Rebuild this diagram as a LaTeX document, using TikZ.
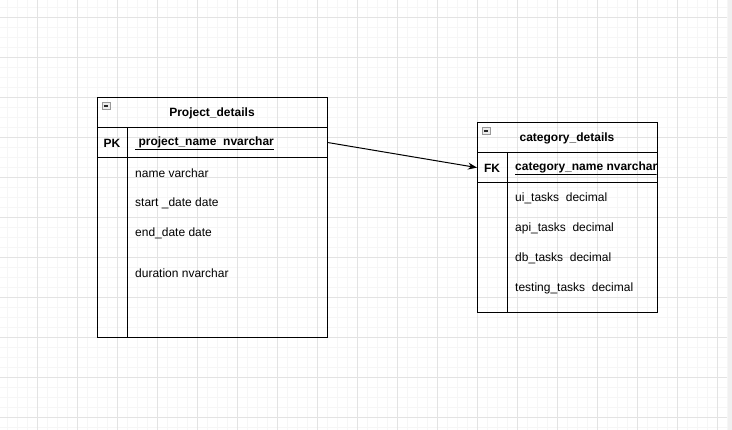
\documentclass[tikz,border=0pt]{standalone}
\usepackage{fontspec}
\setmainfont{Liberation Sans}
\usetikzlibrary{arrows.meta}
\begin{document}
\begin{tikzpicture}[x=1pt,y=-1pt,
  tbl/.style={draw=black,line width=1.2pt,anchor=north west,inner sep=0pt},
  fld/.style={anchor=west,inner sep=0pt,font=\fontsize{12}{14}\selectfont},
  ttl/.style={inner sep=0pt,font=\bfseries\fontsize{12}{14}\selectfont},
  keyt/.style={inner sep=0pt,font=\bfseries\fontsize{12}{14}\selectfont},
  icon/.style={draw=gray!80,fill=gray!15,line width=0.8pt,minimum width=8pt,minimum height=7pt,inner sep=0pt,anchor=north west}]
\useasboundingbox (0,0) rectangle (732,430);
\fill[white] (0,0) rectangle (732,430);
% grid
\foreach \x in {7,17,...,727} \draw[line width=0.6pt,gray!7] (\x,0) -- (\x,430);
\foreach \y in {7,17,...,427} \draw[line width=0.6pt,gray!7] (0,\y) -- (727,\y);
\foreach \x in {37,77,...,717} \draw[line width=0.8pt,gray!22] (\x,0) -- (\x,430);
\foreach \y in {17,57,...,417} \draw[line width=0.8pt,gray!22] (0,\y) -- (727,\y);
\fill[gray!12] (728,0) rectangle (732,430);

% table 1
\node[tbl,minimum width=230pt,minimum height=30pt] (t1h) at (97,97) {};
\node[tbl,minimum width=30pt,minimum height=30pt] (t1pk) at (97,127) {};
\node[tbl,minimum width=200pt,minimum height=30pt] (t1pn) at (127,127) {};
\node[tbl,minimum width=30pt,minimum height=180pt] (t1l) at (97,157) {};
\node[tbl,minimum width=200pt,minimum height=180pt] (t1r) at (127,157) {};
\node[icon] (i1) at (102,102.5) {};
\draw[line width=1.1pt,black!85] (103.8,106) -- (108.2,106);
\node[ttl] (t1t) at (212,113) {Project\_details};
\node[keyt] (pk) at (112,143) {PK};
\node[fld,font=\bfseries\fontsize{12}{14}\selectfont] (pkn) at (135,143) {\underline{\ project\_name\ \ nvarchar}};
\node[fld] (f11) at (135,173) {name varchar};
\node[fld] (f12) at (135,203) {start \_date date};
\node[fld] (f13) at (135,233) {end\_date date};
\node[fld] (f14) at (135,273) {duration nvarchar};

% table 2
\node[tbl,minimum width=180pt,minimum height=30pt] (t2h) at (477,122) {};
\node[tbl,minimum width=30pt,minimum height=30pt] (t2fk) at (477,152) {};
\node[tbl,minimum width=150pt,minimum height=30pt] (t2pn) at (507,152) {};
\node[tbl,minimum width=30pt,minimum height=130pt] (t2l) at (477,182) {};
\node[tbl,minimum width=150pt,minimum height=130pt] (t2r) at (507,182) {};
\node[icon] (i2) at (482,127.5) {};
\draw[line width=1.1pt,black!85] (483.8,131) -- (488.2,131);
\node[ttl] (t2t) at (567,138) {category\_details};
\node[keyt] (fk) at (492,168) {FK};
\begin{scope}
\clip (507,153) rectangle (656.5,181);
\node[fld,font=\bfseries\fontsize{12}{14}\selectfont] (fkn) at (515,168) {\underline{category\_name nvarchar}};
\end{scope}
\node[fld] (f21) at (515,198) {ui\_tasks\ \ decimal};
\node[fld] (f22) at (515,228) {api\_tasks\ \ decimal};
\node[fld] (f23) at (515,258) {db\_tasks\ \ decimal};
\node[fld] (f24) at (515,288) {testing\_tasks\ \ decimal};

% connector
\coordinate (a) at (t1pn.east);
\coordinate (b) at (t2fk.west);
\draw[line width=1pt,-{Stealth[length=9pt,width=7pt]}] (a) -- (b);
\end{tikzpicture}
\end{document}
